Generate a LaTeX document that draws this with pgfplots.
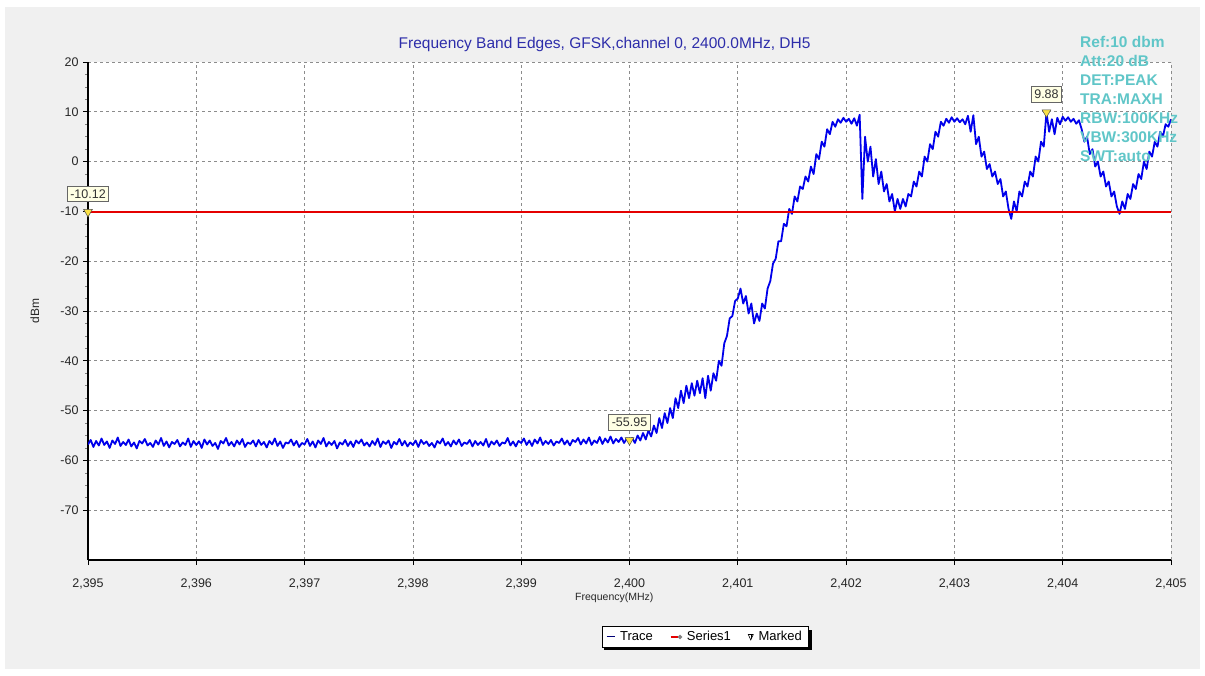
\documentclass[border=0pt]{standalone}
\usepackage{pgfplots}
\pgfplotsset{compat=1.18}
\usepackage{pgfplotstable}
\usepackage{fontspec}
\setmainfont{Liberation Sans}
\definecolor{bgray}{RGB}{240,240,240}
\definecolor{tracec}{RGB}{0,0,235}
\definecolor{titlec}{RGB}{45,45,170}
\definecolor{infoc}{RGB}{96,198,200}
\definecolor{gridc}{RGB}{140,140,140}
\definecolor{mfill}{RGB}{250,225,70}
\definecolor{lblfill}{RGB}{255,255,228}

\pgfplotstableread[row sep=\\]{
y\\
-56.8\\ -55.9\\ -57.3\\ -56.1\\ -57.0\\ -55.6\\ -56.9\\ -56.2\\ -57.5\\ -56.0\\ -56.7\\ -55.4\\ -57.1\\ -56.3\\ -56.9\\ -55.8\\ -57.2\\ -56.4\\ -57.6\\ -56.1\\
-56.6\\ -55.7\\ -57.0\\ -56.5\\ -57.3\\ -56.0\\ -56.8\\ -55.5\\ -57.1\\ -56.2\\ -57.4\\ -56.3\\ -56.7\\ -55.9\\ -57.2\\ -56.4\\ -56.9\\ -55.6\\ -57.3\\ -56.1\\
-56.9\\ -56.2\\ -57.5\\ -55.8\\ -56.8\\ -56.0\\ -57.1\\ -56.5\\ -57.7\\ -56.1\\ -56.6\\ -55.5\\ -57.0\\ -56.3\\ -57.2\\ -56.0\\ -56.8\\ -55.7\\ -57.3\\ -56.4\\
-56.7\\ -56.0\\ -57.2\\ -55.9\\ -56.9\\ -56.3\\ -57.4\\ -56.1\\ -56.8\\ -55.6\\ -57.1\\ -56.2\\ -57.5\\ -56.4\\ -56.6\\ -55.8\\ -57.0\\ -56.1\\ -57.3\\ -56.5\\
-56.8\\ -55.7\\ -57.1\\ -56.2\\ -57.4\\ -56.0\\ -56.7\\ -55.5\\ -57.2\\ -56.3\\ -56.9\\ -56.1\\ -57.6\\ -56.4\\ -56.8\\ -55.9\\ -57.1\\ -56.2\\ -57.3\\ -56.0\\
-56.6\\ -55.8\\ -57.0\\ -56.4\\ -57.2\\ -56.1\\ -56.9\\ -55.6\\ -57.3\\ -56.2\\ -56.7\\ -56.0\\ -57.5\\ -56.3\\ -56.8\\ -55.7\\ -57.0\\ -56.1\\ -57.2\\ -56.4\\
-56.9\\ -56.0\\ -57.3\\ -55.9\\ -56.7\\ -56.2\\ -57.1\\ -56.5\\ -57.4\\ -56.1\\ -56.6\\ -55.6\\ -57.0\\ -56.3\\ -57.2\\ -56.0\\ -56.8\\ -55.8\\ -57.1\\ -56.4\\
-56.7\\ -55.9\\ -57.2\\ -56.1\\ -56.9\\ -56.3\\ -57.0\\ -55.7\\ -57.3\\ -56.2\\ -56.8\\ -56.0\\ -57.1\\ -56.4\\ -56.6\\ -55.5\\ -57.0\\ -56.2\\ -57.2\\ -56.1\\
-56.5\\ -55.6\\ -56.9\\ -56.0\\ -57.1\\ -55.8\\ -56.6\\ -55.4\\ -56.9\\ -56.1\\ -56.7\\ -55.9\\ -57.0\\ -56.2\\ -56.5\\ -55.6\\ -56.8\\ -56.0\\ -57.0\\ -55.9\\
-56.3\\ -55.5\\ -56.8\\ -55.8\\ -56.6\\ -55.4\\ -56.9\\ -56.0\\ -56.5\\ -55.3\\ -56.7\\ -55.6\\ -56.4\\ -55.2\\ -56.6\\ -55.7\\ -56.3\\ -55.4\\ -56.5\\ -55.6\\
-55.95\\ -55.5\\ -56.5\\ -55.0\\ -56.0\\ -54.5\\ -55.8\\ -54.0\\ -55.2\\ -53.0\\ -54.5\\ -51.5\\ -53.5\\ -50.5\\ -52.5\\ -49.5\\ -51.5\\ -47.5\\ -49.5\\ -46.0\\
-48.5\\ -45.0\\ -47.5\\ -44.5\\ -47.0\\ -44.0\\ -46.5\\ -43.5\\ -47.5\\ -43.0\\ -46.0\\ -42.5\\ -44.0\\ -40.0\\ -41.0\\ -36.5\\ -35.0\\ -31.5\\ -31.0\\ -28.0\\
-27.5\\ -25.5\\ -28.5\\ -27.0\\ -30.5\\ -28.5\\ -32.5\\ -30.5\\ -32.0\\ -28.5\\ -29.5\\ -25.5\\ -24.0\\ -20.5\\ -19.5\\ -16.0\\ -16.0\\ -12.5\\ -13.0\\ -9.5\\
-10.5\\ -7.0\\ -8.0\\ -5.0\\ -5.5\\ -3.0\\ -4.0\\ -1.0\\ -2.5\\ 1.5\\ 0.5\\ 4.0\\ 3.0\\ 6.5\\ 5.5\\ 8.0\\ 7.0\\ 8.5\\ 7.8\\ 8.8\\
8.0\\ 8.6\\ 7.6\\ 8.7\\ 7.2\\ 9.4\\ -7.5\\ 5.0\\ 0.0\\ 3.0\\ -3.0\\ 0.5\\ -4.5\\ -2.0\\ -6.0\\ -4.5\\ -8.0\\ -6.5\\ -10.0\\ -7.5\\
-9.5\\ -7.5\\ -9.0\\ -6.5\\ -7.0\\ -4.0\\ -5.0\\ -2.0\\ -3.0\\ 1.0\\ 0.0\\ 3.5\\ 2.5\\ 6.0\\ 5.0\\ 8.0\\ 7.2\\ 8.6\\ 7.8\\ 8.9\\
8.0\\ 8.7\\ 7.9\\ 8.5\\ 7.5\\ 9.2\\ 6.0\\ 9.3\\ 3.5\\ 5.0\\ 1.0\\ 2.0\\ -1.5\\ -0.5\\ -3.0\\ -2.0\\ -4.5\\ -3.5\\ -7.0\\ -6.0\\
-9.5\\ -11.5\\ -8.0\\ -10.0\\ -6.0\\ -7.0\\ -4.0\\ -5.0\\ -2.0\\ -3.0\\ 1.0\\ 0.0\\ 4.0\\ 3.0\\ 9.88\\ 6.0\\ 8.5\\ 5.5\\ 8.8\\ 7.5\\
9.0\\ 8.2\\ 8.9\\ 8.0\\ 8.6\\ 7.6\\ 8.3\\ 6.5\\ 4.0\\ 5.0\\ 1.5\\ 2.5\\ -1.0\\ 0.0\\ -3.0\\ -2.0\\ -5.0\\ -4.0\\ -7.0\\ -6.0\\
-9.0\\ -10.5\\ -8.0\\ -9.5\\ -6.5\\ -7.5\\ -4.5\\ -5.5\\ -2.5\\ -3.5\\ 0.0\\ -1.5\\ 2.0\\ 1.0\\ 4.0\\ 3.0\\ 6.0\\ 5.0\\ 7.5\\ 7.0\\
8.5\\
}\tracedata

\pgfplotstableread{
x y label
2395 -10.12 -10.12
2400 -55.95 -55.95
2403.85 9.88 9.88
}\markdata

\begin{document}
\begin{tikzpicture}[x=1pt,y=1pt]
\fill[white] (0,0) rectangle (1205,675);
\fill[bgray] (5,6) rectangle (1200,668);
% legend drop shadow
\fill[black] (604,25) rectangle (812,45);
\begin{axis}[
  at={(88pt,115pt)}, anchor=south west,
  scale only axis, width=1083pt, height=498pt,
  axis background/.style={fill=white},
  xmin=2395, xmax=2405, ymin=-80, ymax=20,
  axis x line*=bottom, axis y line*=left,
  axis line style={-, line width=1.6pt, black},
  tick align=outside,
  major tick length=5pt, minor tick length=3pt,
  tick style={black, line width=0.6pt},
  minor tick style={gray, line width=0.5pt},
  xtick={2395,2396,...,2405},
  xticklabels={{2,395},{2,396},{2,397},{2,398},{2,399},{2,400},{2,401},{2,402},{2,403},{2,404},{2,405}},
  ytick={-70,-60,...,20},
  minor x tick num=3, minor y tick num=3,
  grid=major,
  major grid style={gridc, dash pattern=on 3pt off 3pt, line width=0.7pt},
  /pgf/number format/assume math mode=true,
  ticklabel style={font=\fontsize{12.5}{14}\selectfont, text=black!85},
  xticklabel style={yshift=-10pt},
  yticklabel style={xshift=-1pt},
  title={Frequency Band Edges, GFSK,channel 0, 2400.0MHz, DH5},
  title style={at={(axis description cs:0.477,1)}, anchor=center, yshift=12pt,
    font=\fontsize{15.5}{18}\selectfont, text=titlec},
  xlabel={Frequency(MHz)},
  xlabel style={at={(axis description cs:0.486,0)}, anchor=north, yshift=-29pt,
    font=\fontsize{10.5}{12}\selectfont, text=black!85},
  ylabel={dBm},
  ylabel style={at={(axis description cs:-0.049,0.5)}, anchor=center,
    font=\fontsize{12}{14}\selectfont, text=black!85},
  legend columns=3,
  legend style={at={(axis description cs:0.5697,-0.1546)}, anchor=center,
    draw=black, line width=0.6pt, fill=white,
    font=\fontsize{13}{15}\selectfont,
    inner xsep=4pt, inner ysep=3pt,
    /tikz/every odd column/.append style={column sep=1pt},
    /tikz/every even column/.append style={column sep=15pt}},
]
\addplot[tracec, line width=1.8pt, line join=round,
  legend image code/.code={\draw[tracec!50!black, line width=1pt] (0pt,0pt) -- (8pt,0pt);}]
  table[x expr=2395+0.025*\coordindex, y=y] {\tracedata};
\addlegendentry{\hspace{2pt}Trace}
\addplot[red!90!black, line width=2.2pt,
  legend image code/.code={\draw[red!90!black, line width=1.4pt] (0pt,0pt) -- (7pt,0pt); \fill[gray] (9.5pt,0pt) circle (0.8pt);}]
  coordinates {(2395,-10.12) (2405,-10.12)};
\addlegendentry{\hspace{2pt}Series1}
\addplot[only marks, mark=triangle*, mark size=5pt,
  mark options={rotate=180, fill=mfill, draw=black!70, line width=0.5pt},
  nodes near coords, point meta=explicit symbolic,
  nodes near coords style={anchor=south, yshift=10pt, draw=black!60, fill=lblfill,
    font=\fontsize{12.5}{14}\selectfont, text=black!80, inner xsep=3pt, inner ysep=3.5pt, line width=0.6pt},
  legend image code/.code={\draw[black, line width=0.6pt] (0pt,2.5pt) -- (5pt,2.5pt) -- (2.5pt,-3pt) -- cycle; \draw[black, line width=0.5pt] (2.5pt,1.5pt) -- (2.5pt,-1pt);}]
  table[x=x, y=y, meta=label] {\markdata};
\addlegendentry{\hspace{2pt}Marked}
\end{axis}
\node[anchor=north west, align=left, text=infoc, font=\bfseries\fontsize{15.5}{19}\selectfont, inner sep=0pt]
  at (1080,639) {Ref:10 dbm\\Att:20 dB\\DET:PEAK\\TRA:MAXH\\RBW:100KHz\\VBW:300KHz\\SWT:auto};
\end{tikzpicture}
\end{document}
